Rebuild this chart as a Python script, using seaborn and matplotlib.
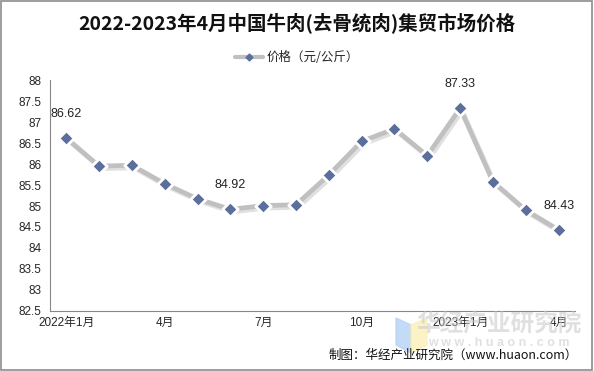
import numpy as np
import pandas as pd
import matplotlib
matplotlib.use("Agg")
import matplotlib.pyplot as plt
import matplotlib.patheffects as pe
import seaborn as sns

# ─── DATA ────────────────────────────────────────────────────
months = ["2022-01", "2022-02", "2022-03", "2022-04", "2022-05", "2022-06",
          "2022-07", "2022-08", "2022-09", "2022-10", "2022-11", "2022-12",
          "2023-01", "2023-02", "2023-03", "2023-04"]
prices = [86.62, 85.95, 85.97, 85.53, 85.17, 84.92, 85.01, 85.03,
          85.74, 86.54, 86.84, 86.20, 87.33, 85.58, 84.90, 84.43]
tick_labels = ["2022年1月", "4月", "7月", "10月", "2023年1月", "4月"]
labeled_idx = [0, 5, 12, 15]   # points that carry a value label

title = "2022-2023年4月中国牛肉(去骨统肉)集贸市场价格"
series_name = "价格（元/公斤）"
source = "制图：华经产业研究院（www.huaon.com）"

df = pd.DataFrame({"idx": np.arange(len(months)), "month": months, "price": prices})

# ─── STYLE ───────────────────────────────────────────────────
sns.set_style("white")
plt.rcParams["font.family"] = ["Liberation Sans", "Noto Sans CJK SC", "DejaVu Sans"]
cjk = ["Noto Sans CJK SC", "DejaVu Sans"]

fig = plt.figure(figsize=(5.94, 3.71), dpi=100)
ax = fig.add_axes([0.084, 0.162, 0.884, 0.622])

line_color = "#c0c0c0"
marker_color = "#5a6f9c"

shadow = [pe.SimpleLineShadow(offset=(1.5, -1.8), shadow_color="#9a9a9a", alpha=0.3),
          pe.Normal()]
sns.lineplot(data=df, x="idx", y="price", ax=ax, color=line_color, linewidth=3.4,
             path_effects=shadow, legend=False, zorder=2)
sns.scatterplot(data=df, x="idx", y="price", ax=ax, marker="D", s=62,
                color=marker_color, edgecolor="white", linewidth=2, zorder=3,
                legend=False)

for i in labeled_idx:
    ax.annotate(f"{prices[i]:.2f}", (i, prices[i]), xytext=(0, 13),
                textcoords="offset points", ha="center", va="bottom",
                fontsize=9, color="#222222")

# axes
ax.set_xlim(-0.5, len(months) - 0.5)
ax.set_ylim(82.5, 88)
yt = np.arange(82.5, 88.01, 0.5)
ax.set_yticks(yt)
ax.set_yticklabels([f"{v:g}" for v in yt], fontsize=8.5)
ax.set_xticks(np.arange(-0.5, len(months), 1))
ax.set_xticklabels([])
ax.set_xticks([0, 3, 6, 9, 12, 15], minor=True)
ax.set_xticklabels(tick_labels, minor=True, fontsize=8.5)
ax.tick_params(axis="x", which="minor", length=0, pad=4)
ax.tick_params(axis="x", which="major", length=4, color="#888888", direction="out")
ax.tick_params(axis="y", length=4, color="#888888", direction="out", pad=2)
ax.set_xlabel("")
ax.set_ylabel("")
for s in ["top", "right"]:
    ax.spines[s].set_visible(False)
for s in ["left", "bottom"]:
    ax.spines[s].set_color("#888888")
    ax.spines[s].set_linewidth(0.8)

# title and legend
fig.text(0.5, 0.94, title, ha="center", va="center", fontsize=14, fontweight="bold",
         family=cjk, color="#111111")
handle = plt.Line2D([], [], color=line_color, linewidth=3, marker="D", markersize=3.5,
                    markerfacecolor=marker_color, markeredgecolor=marker_color)
fig.legend([handle], [series_name], loc="center", bbox_to_anchor=(0.5, 0.845),
           frameon=False, handlelength=2.2, handletextpad=0.3,
           prop={"family": cjk, "size": 9})

# watermark logo, text and source
W, H = 594, 371
def fpt(x, y):
    return (x / W, 1 - y / H)
fig.patches.append(plt.Polygon([fpt(396, 318), fpt(411, 325), fpt(411, 353), fpt(396, 345)],
                               transform=fig.transFigure, color="#b5d2f5", alpha=0.8, zorder=0))
fig.patches.append(plt.Polygon([fpt(411, 325), fpt(427, 318), fpt(427, 345), fpt(411, 353)],
                               transform=fig.transFigure, color="#fbf0b8", alpha=0.8, zorder=0))
fig.text(0.84, 0.125, "华经产业研究院", ha="center", va="center", fontsize=17,
         fontweight="bold", color="#c8c8c8", alpha=0.55, family=cjk, zorder=0)
fig.text(0.84, 0.075, "w w w . h u a o n . c o m", ha="center", va="center",
         fontsize=9, fontweight="bold", color="#c8c8c8", alpha=0.55, zorder=0)
fig.text(0.972, 0.043, source, ha="right", va="center", fontsize=9,
         family=cjk, color="#111111")

# outer frame
fig.patches.append(plt.Rectangle((0.002, 0.003), 0.995, 0.994, transform=fig.transFigure,
                                 fill=False, edgecolor="#8c8c8c", linewidth=1.2))

fig.savefig("out.png", dpi=100)
